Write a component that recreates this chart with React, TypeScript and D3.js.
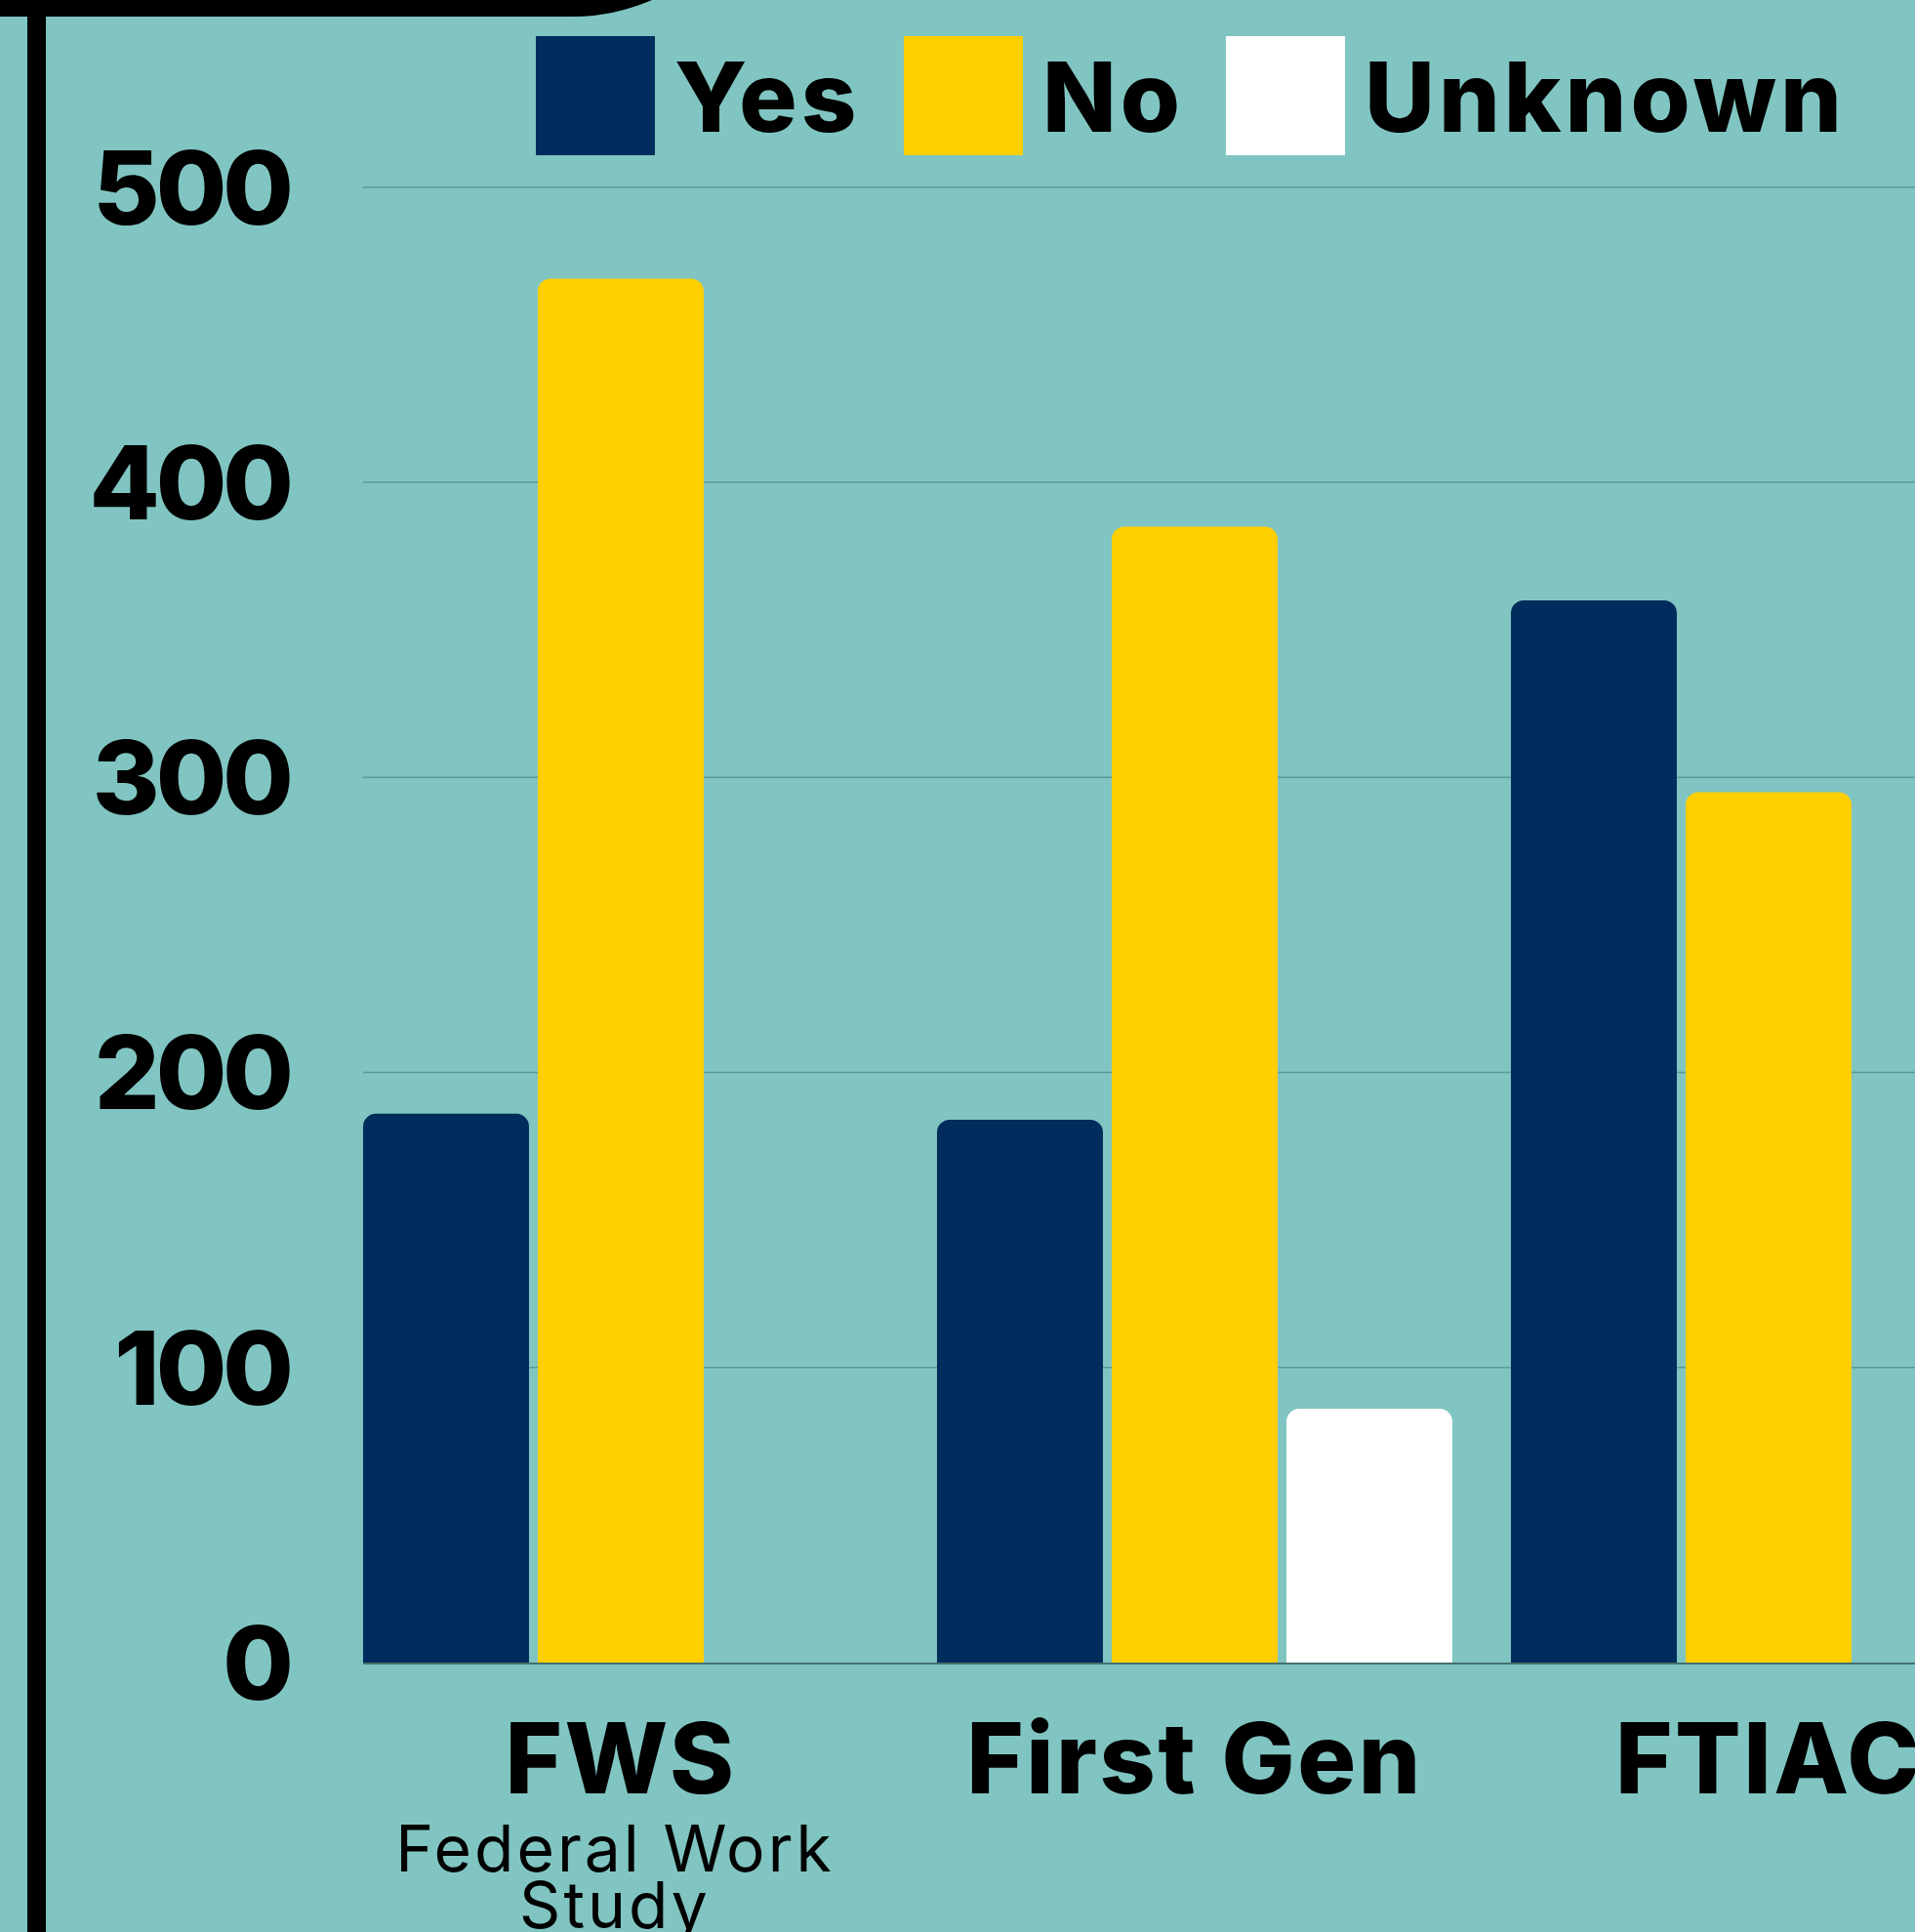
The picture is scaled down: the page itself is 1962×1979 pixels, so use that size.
import * as d3 from 'd3'

const categories = ['FWS', 'First Gen', 'FTIAC']
const subtitles = [['Federal Work', 'Study'], [], []]
const seriesKeys = ['Yes', 'No', 'Unknown']
const yesValues = [186, 184, 360]
const noValues = [469, 385, 295]
const unknownValues = [0, 86, 0]
const yTicks = [0, 100, 200, 300, 400, 500]

const seriesColors = ['#002d5d', '#ffcf00', '#ffffff']
const seriesValues = [yesValues, noValues, unknownValues]

const width = 1962
const height = 1979
const font = 'Inter, "Noto Sans", sans-serif'

// top-rounded bar shape
function barPath(x: number, y: number, w: number, y0: number, r: number) {
  const rr = Math.min(r, w / 2, (y0 - y) / 2)
  return `M${x},${y0}V${y + rr}A${rr},${rr} 0 0 1 ${x + rr},${y}H${x + w - rr}A${rr},${rr} 0 0 1 ${x + w},${y + rr}V${y0}Z`
}

export default function App() {
  const x0 = d3
    .scaleBand<string>()
    .domain(categories)
    .range([372, 2076])
    .paddingInner(0.102)
    .paddingOuter(0)
    .align(0)

  const x1 = d3
    .scaleBand<string>()
    .domain(seriesKeys)
    .range([0, x0.bandwidth()])
    .paddingInner(0.0503)
    .paddingOuter(0)

  const y = d3.scaleLinear().domain([0, 500]).range([1703, 191.8])

  const legendX = [549, 926, 1256]

  return (
    <svg
      width={width}
      height={height}
      viewBox={`0 0 ${width} ${height}`}
      style={{ position: 'absolute', left: 0, top: 0, display: 'block' }}
    >
      <rect x={0} y={0} width={width} height={height} fill="#80c5c1" />

      {/* frame pieces */}
      <path d="M0,0H668Q628,17 588,17H0Z" fill="#000" />
      <rect x={28} y={0} width={19} height={height} fill="#000" />

      {/* gridlines */}
      {yTicks
        .filter((t) => t > 0)
        .map((t) => (
          <line
            key={t}
            x1={372}
            x2={width}
            y1={y(t)}
            y2={y(t)}
            stroke="#5f9995"
            strokeWidth={1.6}
          />
        ))}

      {/* bars */}
      {categories.map((cat, ci) => (
        <g key={cat} transform={`translate(${x0(cat)},0)`}>
          {seriesKeys.map((key, si) => {
            const v = seriesValues[si][ci]
            if (!v) return null
            return (
              <path
                key={key}
                d={barPath(x1(key)!, y(v), x1.bandwidth(), y(0), 13)}
                fill={seriesColors[si]}
              />
            )
          })}
        </g>
      ))}

      {/* baseline */}
      <line x1={372} x2={width} y1={y(0) + 1} y2={y(0) + 1} stroke="#46706e" strokeWidth={2} />

      {/* y tick labels */}
      {yTicks.map((t) => (
        <text
          key={t}
          x={297}
          y={y(t)}
          dy="0.36em"
          textAnchor="end"
          fontFamily={font}
          fontWeight={800}
          fontSize={105}
          letterSpacing={-4}
          fill="#000"
        >
          {t}
        </text>
      ))}

      {/* category labels */}
      {categories.map((cat, ci) => {
        const cx = x0(cat)! + x0.bandwidth() / 2
        return (
          <g key={cat}>
            <text
              x={cx}
              y={1837}
              textAnchor="middle"
              fontFamily={font}
              fontWeight={800}
              fontSize={100}
              letterSpacing={2.5}
              fill="#000"
            >
              {cat}
            </text>
            {subtitles[ci].map((line, li) => (
              <text
                key={line}
                x={cx - 6}
                y={1917 + li * 58}
                textAnchor="middle"
                fontFamily={font}
                fontWeight={400}
                fontSize={66}
                letterSpacing={3}
                fill="#000"
              >
                {line}
              </text>
            ))}
          </g>
        )
      })}

      {/* legend */}
      {seriesKeys.map((key, si) => (
        <g key={key} transform={`translate(${legendX[si]},37)`}>
          <rect width={122} height={122} fill={seriesColors[si]} />
          <text
            x={142}
            y={98}
            fontFamily={font}
            fontWeight={800}
            fontSize={99}
            letterSpacing={4}
            fill="#000"
          >
            {key}
          </text>
        </g>
      ))}
    </svg>
  )
}
